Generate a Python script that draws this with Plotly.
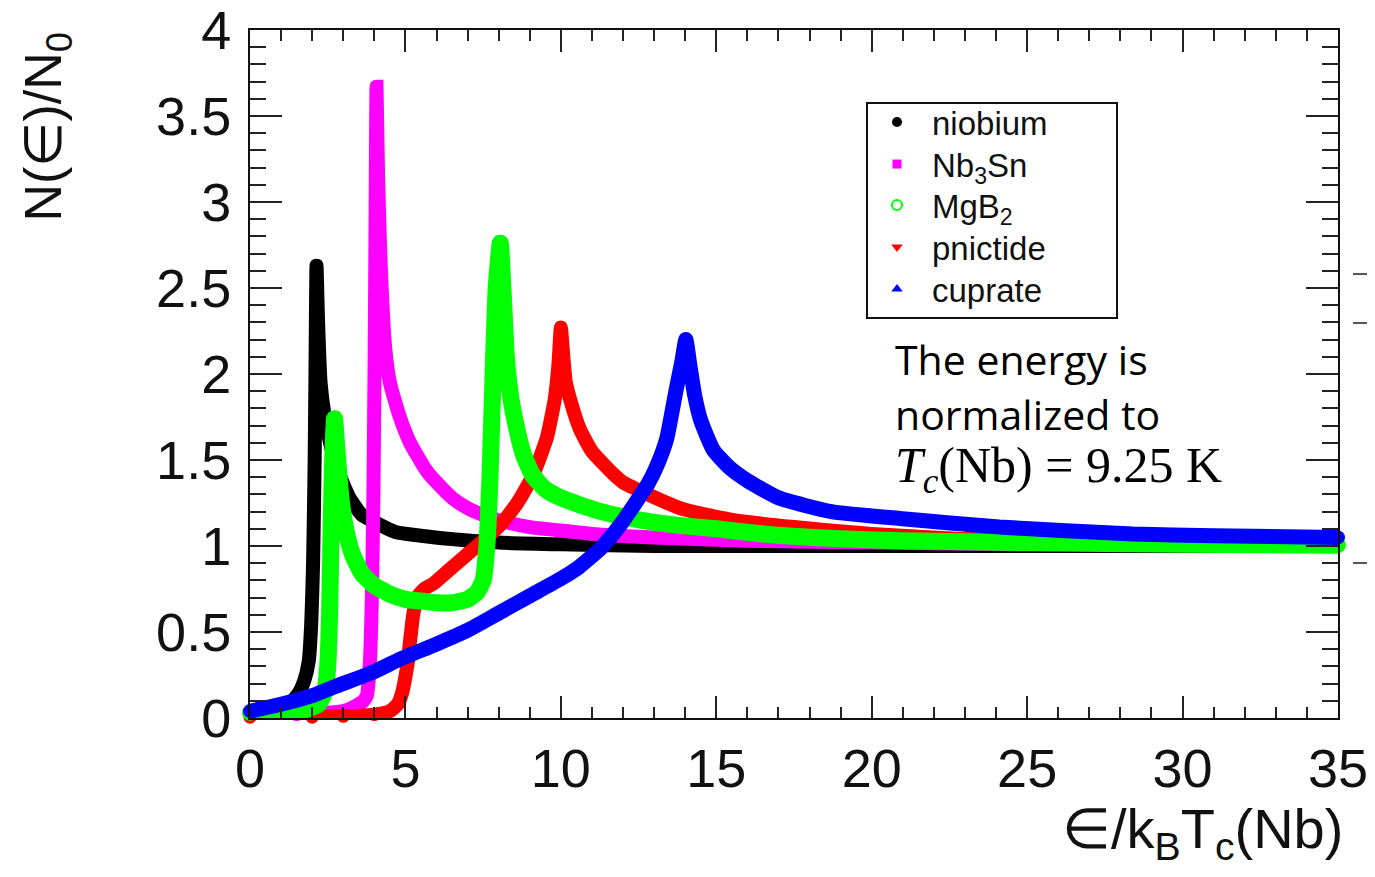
import plotly.graph_objects as go

# ---------------- data ----------------
nb_x = [0, 0.6, 1.0, 1.3, 1.55, 1.75, 1.89, 1.97, 2.03, 2.08, 2.11, 2.14, 2.19, 2.27, 2.4, 2.6,
        2.8, 3.0, 3.2, 3.6, 4.0, 4.7, 5.5, 6.5, 8, 10, 13, 17, 22, 28, 35]
nb_y = [0.03, 0.04, 0.06, 0.09, 0.14, 0.22, 0.33, 0.55, 0.9, 1.5, 2.1, 2.63, 2.3, 1.95, 1.76, 1.58,
        1.45, 1.36, 1.28, 1.18, 1.14, 1.08, 1.06, 1.04, 1.02, 1.01, 1.0, 1.0, 1.0, 1.0, 1.0]

sn_x = [0, 1.5, 2.5, 3.0, 3.3, 3.5, 3.65, 3.76, 3.85, 3.92, 3.97, 4.01, 4.04, 4.07, 4.12, 4.2,
        4.35, 4.5, 4.82, 5.15, 5.67, 6.0, 6.5, 7.0, 7.5, 8.0, 9.0, 10, 11, 13, 16, 20, 25, 30, 35]
sn_y = [0.02, 0.02, 0.03, 0.04, 0.06, 0.08, 0.1, 0.13, 0.3, 0.7, 1.3, 2.1, 2.9, 3.67, 3.15, 2.65,
        2.15, 1.95, 1.75, 1.6, 1.44, 1.37, 1.28, 1.22, 1.18, 1.15, 1.11, 1.09, 1.07, 1.05, 1.03,
        1.02, 1.01, 1.01, 1.01]

mg_x = [0, 1.0, 1.8, 2.2, 2.4, 2.5, 2.56, 2.61, 2.66, 2.72, 2.8, 2.93, 3.1, 3.3, 3.6, 4.0, 4.5,
        5.0, 5.5, 6.0, 6.5, 7.0, 7.3, 7.5, 7.62, 7.72, 7.82, 7.92, 8.05, 8.15, 8.25, 8.4, 8.56,
        8.8, 9.1, 9.5, 10.0, 10.6, 11.3, 12, 12.9, 13.8, 15, 16.5, 18.6, 21, 25, 30, 35]
mg_y = [0.03, 0.04, 0.05, 0.08, 0.15, 0.3, 0.6, 1.1, 1.5, 1.74, 1.55, 1.27, 1.08, 0.95, 0.84,
        0.77, 0.72, 0.69, 0.68, 0.67, 0.67, 0.69, 0.73, 0.8, 1.0, 1.4, 2.0, 2.5, 2.76, 2.45, 2.09,
        1.85, 1.70, 1.53, 1.41, 1.33, 1.28, 1.24, 1.2, 1.17, 1.14, 1.12, 1.1, 1.07, 1.045, 1.03,
        1.02, 1.01, 1.005]

pn_x = [0, 2, 3, 4, 4.5, 4.75, 4.9, 5.0, 5.08, 5.15, 5.25, 5.37, 5.6, 5.89, 6.4, 6.98, 7.5, 8.04,
        8.6, 9.1, 9.55, 9.8, 9.92, 10.0, 10.08, 10.16, 10.35, 10.61, 11.0, 11.68, 12.0, 12.8,
        13.83, 15, 16, 17.5, 18.65, 20, 23, 26, 30, 35]
pn_y = [0.005, 0.005, 0.01, 0.02, 0.04, 0.08, 0.15, 0.24, 0.33, 0.45, 0.6, 0.7, 0.75, 0.78, 0.86,
        0.95, 1.03, 1.12, 1.25, 1.41, 1.63, 1.85, 2.05, 2.27, 2.1, 1.95, 1.82, 1.68, 1.55, 1.42,
        1.37, 1.3, 1.22, 1.17, 1.14, 1.11, 1.09, 1.07, 1.04, 1.03, 1.02, 1.01]

cu_x = [0, 1, 2, 2.7, 4, 4.8, 6, 7, 8, 9, 10, 10.6, 11.3, 11.9, 12.4, 12.8, 13.1, 13.4, 13.7,
        13.9, 14.02, 14.15, 14.3, 14.5, 14.9, 15.4, 16, 17, 18.7, 20.9, 24.1, 28.4, 31, 35]
cu_y = [0.04, 0.08, 0.13, 0.18, 0.27, 0.34, 0.43, 0.51, 0.61, 0.71, 0.81, 0.88, 0.99, 1.12, 1.25,
        1.36, 1.47, 1.62, 1.9, 2.08, 2.2, 2.05, 1.88, 1.73, 1.56, 1.46, 1.38, 1.28, 1.2, 1.16,
        1.11, 1.07, 1.06, 1.05]

series_names = ["niobium", "Nb<sub>3</sub>Sn", "MgB<sub>2</sub>", "pnictide", "cuprate"]
series_colors = ["#000000", "#ff00ff", "#00ff00", "#ff0000", "#0000ff"]
legend_symbols = ["circle", "square", "circle-open", "triangle-down", "triangle-up"]

x_tick_vals = [0, 5, 10, 15, 20, 25, 30, 35]
x_tick_text = ["0", "5", "10", "15", "20", "25", "30", "35"]
y_tick_vals = [0, 0.5, 1, 1.5, 2, 2.5, 3, 3.5, 4]
y_tick_text = ["0", "0.5", "1", "1.5", "2", "2.5", "3", "3.5", "4"]

# ---------------- figure ----------------
fig = go.Figure()

curves = [
    (nb_x, nb_y, 0, 14),
    (sn_x, sn_y, 1, 14),
    (pn_x, pn_y, 3, 14),
    (mg_x, mg_y, 2, 17),
    (cu_x, cu_y, 4, 15),
]
for xs, ys, idx, w in curves:
    fig.add_trace(go.Scatter(
        x=xs, y=ys, mode="lines+markers",
        line=dict(color=series_colors[idx], width=w, shape="spline", smoothing=0.5),
        marker=dict(color=series_colors[idx], size=w - 1, line=dict(width=0)),
        cliponaxis=False, showlegend=False, hoverinfo="skip",
    ))

# legend entries: one small legend per entry so the row spacing matches
legend_ids = ["legend", "legend2", "legend3", "legend4", "legend5"]
legend_tops = [0.9068, 0.8458, 0.7862, 0.7251, 0.6641]
for i, name in enumerate(series_names):
    fig.add_trace(go.Scatter(
        x=[None], y=[None], mode="markers", name=name, legend=legend_ids[i],
        marker=dict(color=series_colors[i], symbol=legend_symbols[i],
                    size=10 if i != 1 else 9,
                    line=dict(color=series_colors[i], width=2 if i == 2 else 0)),
    ))

legend_layouts = {}
for lid, top in zip(legend_ids, legend_tops):
    legend_layouts[lid] = dict(
        x=0.5625, y=top, xanchor="left", yanchor="top",
        bgcolor="rgba(0,0,0,0)", borderwidth=0, itemwidth=60,
        font=dict(family="Liberation Sans, Arial", size=33, color="#111"),
    )

axis_common = dict(
    showline=True, linecolor="#111", linewidth=2, mirror="allticks",
    ticks="inside", tickcolor="#222", tickwidth=2,
    showgrid=False, zeroline=False, automargin=False,
    ticklabeloverflow="allow",
    tickfont=dict(family="Liberation Sans, Arial", size=54, color="#111"),
)

fig.update_xaxes(range=[0, 35], tickvals=x_tick_vals, ticktext=x_tick_text, ticklen=22,
                 minor=dict(dtick=1, ticks="inside", ticklen=11, tickwidth=2, tickcolor="#222"),
                 ticklabelstandoff=2, **axis_common)
fig.update_yaxes(range=[0, 4], tickvals=y_tick_vals, ticktext=y_tick_text, ticklen=32,
                 minor=dict(dtick=0.1, ticks="inside", ticklen=16, tickwidth=2, tickcolor="#222"),
                 ticklabelstandoff=6, **axis_common)

shapes = [
    # legend frame
    dict(type="rect", xref="paper", yref="paper", x0=0.5671, x1=0.7969, y0=0.5814, y1=0.8939,
         fillcolor="white", line=dict(color="#111", width=2), layer="above"),
    # stray marks outside the frame at the right
    dict(type="line", xref="paper", yref="paper", x0=1.0138, x1=1.04, y0=0.6453, y1=0.6453,
         line=dict(color="#555", width=2)),
    dict(type="line", xref="paper", yref="paper", x0=1.0138, x1=1.04, y0=0.5741, y1=0.5741,
         line=dict(color="#555", width=2)),
    dict(type="line", xref="paper", yref="paper", x0=1.0138, x1=1.04, y0=0.2253, y1=0.2253,
         line=dict(color="#555", width=2)),
]

annotations = [
    dict(text="N(∈)/N<sub>0</sub>", xref="paper", yref="paper", x=-0.2188, y=1.0,
         xanchor="left", yanchor="top", textangle=-90, showarrow=False,
         font=dict(family="Liberation Sans, Arial", size=52, color="#111")),
    dict(text="∈/k<sub>B</sub>T<sub>c</sub>(Nb)", xref="paper", yref="paper", x=1.006, y=-0.112,
         xanchor="right", yanchor="top", showarrow=False,
         font=dict(family="Liberation Sans, Arial", size=56, color="#111")),
    dict(text="The energy is", xref="paper", yref="paper", x=0.591, y=0.5218,
         xanchor="left", yanchor="middle", showarrow=False,
         font=dict(family="Open Sans", size=41, color="black")),
    dict(text="normalized to", xref="paper", yref="paper", x=0.591, y=0.4419,
         xanchor="left", yanchor="middle", showarrow=False,
         font=dict(family="Open Sans", size=41, color="black")),
    dict(text="<i>T</i><sub><i>c</i></sub>(Nb) = 9.25 K", xref="paper", yref="paper",
         x=0.591, y=0.362, xanchor="left", yanchor="middle", showarrow=False,
         font=dict(family="Liberation Serif", size=50, color="black")),
]

# the page body has an 8 px margin, so the figure is 8 px smaller and margins shifted
fig.update_layout(
    width=1367, height=869,
    margin=dict(l=242, r=37, t=22, b=159),
    paper_bgcolor="white", plot_bgcolor="white",
    showlegend=True,
    shapes=shapes,
    annotations=annotations,
    **legend_layouts,
)

fig.write_html("out.html")
